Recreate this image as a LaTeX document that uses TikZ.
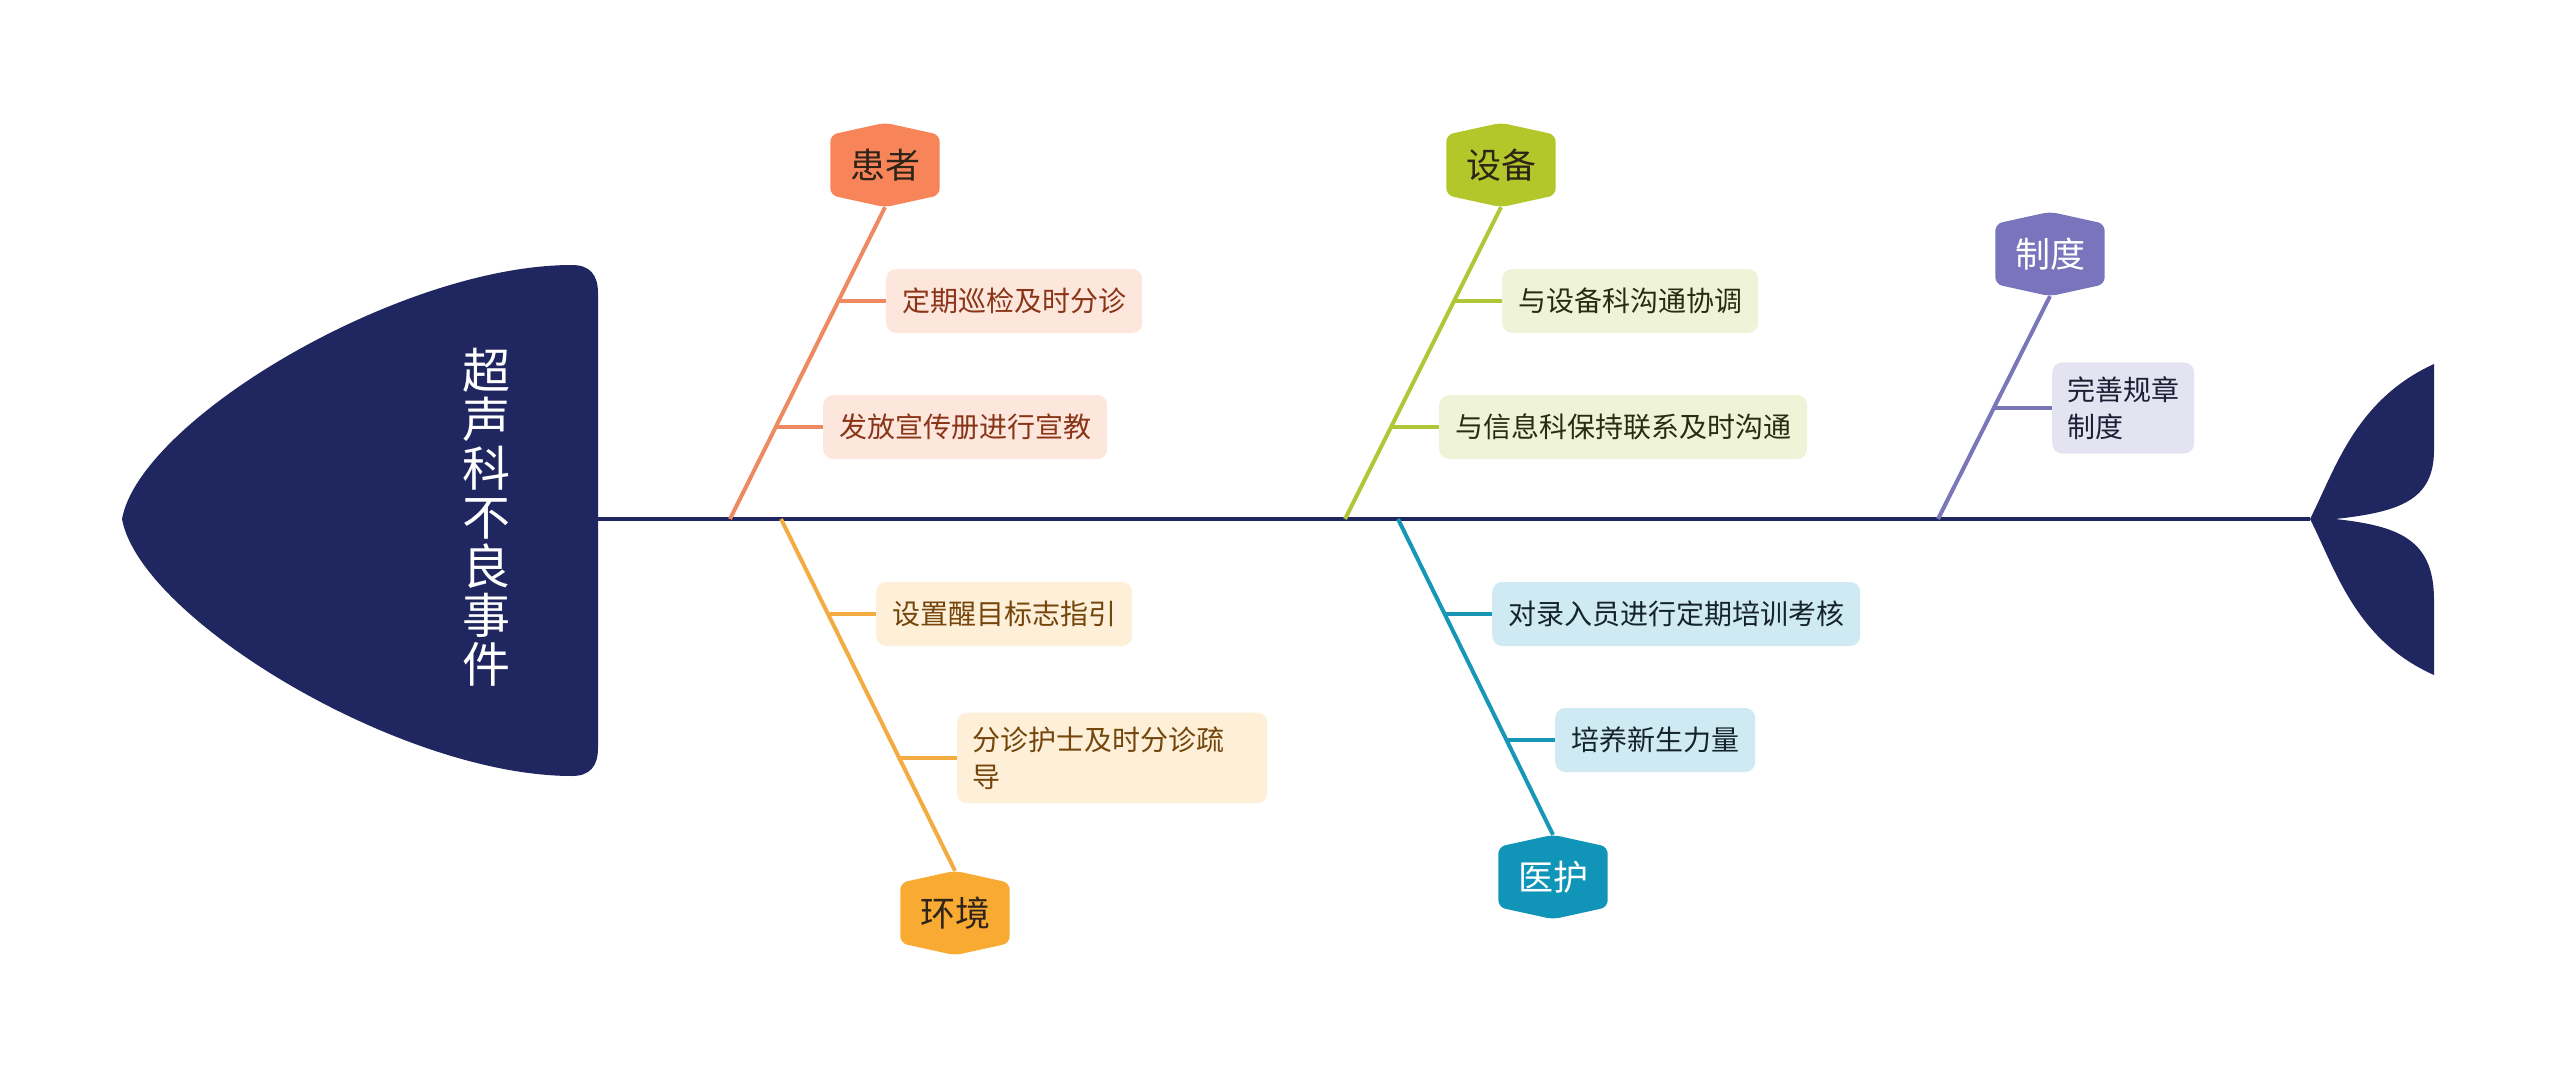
\documentclass[tikz,border=0pt]{standalone}
\usepackage{fontspec}
\setmainfont{Noto Sans CJK SC}
\usetikzlibrary{calc,backgrounds}
\definecolor{navy}{HTML}{20265F}
\definecolor{orHex}{HTML}{F8845A}
\definecolor{orLine}{HTML}{EE8A62}
\definecolor{orBox}{HTML}{FDE6DC}
\definecolor{orTxt}{HTML}{8A3517}
\definecolor{yeHex}{HTML}{F9AA33}
\definecolor{yeLine}{HTML}{F2AC42}
\definecolor{yeBox}{HTML}{FDEFD8}
\definecolor{yeTxt}{HTML}{74460C}
\definecolor{grHex}{HTML}{B3C72B}
\definecolor{grLine}{HTML}{B0C637}
\definecolor{grBox}{HTML}{EFF3D8}
\definecolor{grTxt}{HTML}{2A2C12}
\definecolor{blHex}{HTML}{1095B8}
\definecolor{blLine}{HTML}{1796B5}
\definecolor{blBox}{HTML}{D0EAF3}
\definecolor{blTxt}{HTML}{15242B}
\definecolor{puHex}{HTML}{7A74BC}
\definecolor{puLine}{HTML}{7A76B8}
\definecolor{puBox}{HTML}{E3E3F1}
\definecolor{puTxt}{HTML}{1E1E36}
\definecolor{hexTxt}{HTML}{2E2418}
\newcommand\HexFill[2]{\fill[#2, rounded corners=7pt] (#1.north) -- ([yshift=-12pt]#1.north east) -- ([yshift=12pt]#1.south east) -- (#1.south) -- ([yshift=12pt]#1.south west) -- ([yshift=-12pt]#1.north west) -- cycle;}
\tikzset{
  hexn/.style={minimum width=109pt, minimum height=84pt, inner sep=0pt, font=\fontsize{35}{40}\selectfont},
  item/.style={fill=#1, rounded corners=10pt, inner xsep=16pt, inner ysep=14pt, minimum height=64pt, font=\fontsize{28}{37}\selectfont, anchor=west},
  bone/.style={line width=4pt, #1},
  twig/.style={line width=3.6pt, #1},
}
\begin{document}
\begin{tikzpicture}[x=1pt,y=-1pt]
\useasboundingbox (0,0) rectangle (2560,1078);
% coordinates on the spine
\coordinate (headR) at (598,519);
\coordinate (tailN) at (2310,519);
\coordinate (sA) at (730,519);
\coordinate (sB) at (781,519);
\coordinate (sC) at (1345,519);
\coordinate (sD) at (1398,519);
\coordinate (sE) at (1938,519);
% head text
\node[font=\fontsize{48}{49}\selectfont, text=white, align=center] (head) at (486,517) {超\\声\\科\\不\\良\\事\\件};
% category nodes
\node[hexn, text=hexTxt] (hz) at (885,165) {患者};
\node[hexn, text=hexTxt] (hj) at (955,913) {环境};
\node[hexn, text=hexTxt] (sb) at (1501,165) {设备};
\node[hexn, text=white] (yh) at (1553,877) {医护};
\node[hexn, text=white] (zd) at (2050,254) {制度};
% items
\node[item=orBox, text=orTxt] (p1) at (886,301) {定期巡检及时分诊};
\node[item=orBox, text=orTxt] (p2) at (823,427) {发放宣传册进行宣教};
\node[item=yeBox, text=yeTxt] (e1) at (876,614) {设置醒目标志指引};
\node[item=yeBox, text=yeTxt, text width=280pt, align=left, inner xsep=15pt] (e2) at (957,758) {分诊护士及时分诊疏\\导};
\node[item=grBox, text=grTxt] (s1) at (1502,301) {与设备科沟通协调};
\node[item=grBox, text=grTxt] (s2) at (1439,427) {与信息科保持联系及时沟通};
\node[item=blBox, text=blTxt] (y1) at (1492,614) {对录入员进行定期培训考核};
\node[item=blBox, text=blTxt] (y2) at (1555,740) {培养新生力量};
\node[item=puBox, text=puTxt, text width=112pt, align=left, inner xsep=15pt] (z1) at (2052,408) {完善规章\\制度};
\begin{scope}[on background layer]
  % head
  \fill[navy] (122,519) .. controls (140,420) and (400,265) .. (572,265) .. controls (590,265) and (598,275) .. (598,293) -- (598,748) .. controls (598,766) and (590,776) .. (572,776) .. controls (400,776) and (140,618) .. (122,519) -- cycle;
  % tail
  \fill[navy] (tailN) .. controls (2335,470) and (2355,400) .. (2434,364) -- (2434,450) .. controls (2434,500) and (2400,512) .. (2335,519) .. controls (2400,526) and (2434,540) .. (2434,600) -- (2434,675) .. controls (2355,640) and (2335,568) .. (tailN) -- cycle;
  % spine
  \draw[navy, line width=4.5pt] (headR) -- (tailN);
  % bones
  \draw[bone=orLine] (sA) -- (hz.south);
  \draw[bone=yeLine] (sB) -- (hj.north);
  \draw[bone=grLine] (sC) -- (sb.south);
  \draw[bone=blLine] (sD) -- (yh.north);
  \draw[bone=puLine] (sE) -- (zd.south);
  % twigs
  \draw[twig=orLine] (p1.west) -- (intersection of sA--hz.south and p1.west--p1.east);
  \draw[twig=orLine] (p2.west) -- (intersection of sA--hz.south and p2.west--p2.east);
  \draw[twig=yeLine] (e1.west) -- (intersection of sB--hj.north and e1.west--e1.east);
  \draw[twig=yeLine] (e2.west) -- (intersection of sB--hj.north and e2.west--e2.east);
  \draw[twig=grLine] (s1.west) -- (intersection of sC--sb.south and s1.west--s1.east);
  \draw[twig=grLine] (s2.west) -- (intersection of sC--sb.south and s2.west--s2.east);
  \draw[twig=blLine] (y1.west) -- (intersection of sD--yh.north and y1.west--y1.east);
  \draw[twig=blLine] (y2.west) -- (intersection of sD--yh.north and y2.west--y2.east);
  \draw[twig=puLine] (z1.west) -- (intersection of sE--zd.south and z1.west--z1.east);
  % hexagons
  \HexFill{hz}{orHex}
  \HexFill{hj}{yeHex}
  \HexFill{sb}{grHex}
  \HexFill{yh}{blHex}
  \HexFill{zd}{puHex}
\end{scope}
\end{tikzpicture}
\end{document}
